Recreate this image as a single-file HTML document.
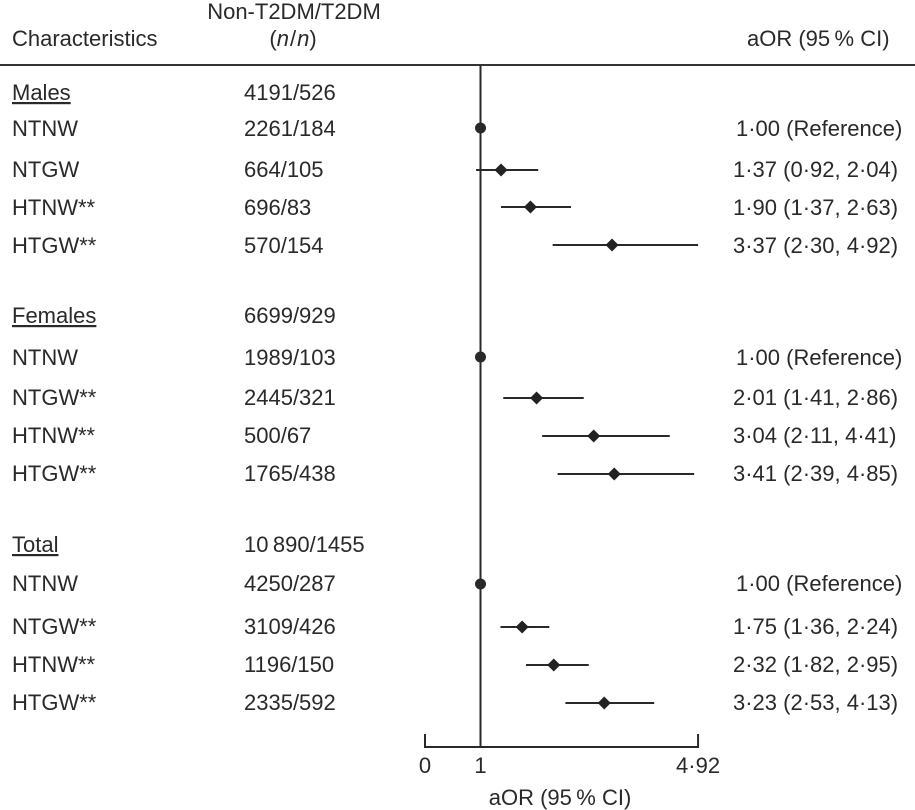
<!DOCTYPE html>
<html lang="en">
<head>
<meta charset="utf-8">
<title>Forest plot of aOR for T2DM</title>
<style>
html,body{margin:0;padding:0;background:#fff;}
svg{display:block;}
text{font-family:"Liberation Sans",Arial,sans-serif;font-size:22px;fill:#2b2829;}
.c{text-anchor:middle;}
</style>
</head>
<body>
<svg id="chart" xmlns="http://www.w3.org/2000/svg" width="915" height="810" viewBox="0 0 915 810">
  <rect x="0" y="0" width="915" height="810" fill="#fff"/>
  <g>
    <text x="12" y="46">Characteristics</text>
    <text class="c" x="294" y="19">Non-T2DM/T2DM</text>
    <text class="c" x="293" y="46">(<tspan font-style="italic">n</tspan><tspan dx="1">/</tspan><tspan dx="1" font-style="italic">n</tspan>)</text>
    <text x="747" y="46">aOR (95&#8201;% CI)</text>
  </g>
  <rect x="0" y="64" width="915" height="2" fill="#333"/>

  <g id="axis"></g>

  <g>
    <g><text x="12" y="100" text-decoration="underline">Males</text><text x="244" y="100">4191/526</text></g>
    <g class="row" transform="translate(0,128)"><text x="12" y="8">NTNW</text><text x="244" y="8">2261/184</text><text x="736" y="8">1·00 (Reference)</text></g>
    <g class="row" transform="translate(0,170)"><text x="12" y="7">NTGW</text><text x="244" y="7">664/105</text><text x="733" y="7">1·37 (0·92, 2·04)</text></g>
    <g class="row" transform="translate(0,207)"><text x="12" y="8">HTNW**</text><text x="244" y="8">696/83</text><text x="733" y="8">1·90 (1·37, 2·63)</text></g>
    <g class="row" transform="translate(0,245)"><text x="12" y="8">HTGW**</text><text x="244" y="8">570/154</text><text x="733" y="8">3·37 (2·30, 4·92)</text></g>
  </g>

  <g>
    <g><text x="12" y="323" text-decoration="underline">Females</text><text x="244" y="323">6699/929</text></g>
    <g class="row" transform="translate(0,357)"><text x="12" y="8">NTNW</text><text x="244" y="8">1989/103</text><text x="736" y="8">1·00 (Reference)</text></g>
    <g class="row" transform="translate(0,398)"><text x="12" y="7">NTGW**</text><text x="244" y="7">2445/321</text><text x="733" y="7">2·01 (1·41, 2·86)</text></g>
    <g class="row" transform="translate(0,436)"><text x="12" y="7">HTNW**</text><text x="244" y="7">500/67</text><text x="733" y="7">3·04 (2·11, 4·41)</text></g>
    <g class="row" transform="translate(0,474)"><text x="12" y="7">HTGW**</text><text x="244" y="7">1765/438</text><text x="733" y="7">3·41 (2·39, 4·85)</text></g>
  </g>

  <g>
    <g><text x="12" y="552" text-decoration="underline">Total</text><text x="244" y="552">10&#8201;890/1455</text></g>
    <g class="row" transform="translate(0,584)"><text x="12" y="7">NTNW</text><text x="244" y="7">4250/287</text><text x="736" y="7">1·00 (Reference)</text></g>
    <g class="row" transform="translate(0,627)"><text x="12" y="7">NTGW**</text><text x="244" y="7">3109/426</text><text x="733" y="7">1·75 (1·36, 2·24)</text></g>
    <g class="row" transform="translate(0,665)"><text x="12" y="7">HTNW**</text><text x="244" y="7">1196/150</text><text x="733" y="7">2·32 (1·82, 2·95)</text></g>
    <g class="row" transform="translate(0,703)"><text x="12" y="7">HTGW**</text><text x="244" y="7">2335/592</text><text x="733" y="7">3·23 (2·53, 4·13)</text></g>
  </g>

  <text class="c" x="560" y="805">aOR (95&#8201;% CI)</text>
</svg>
<script>
// Rows top to bottom: males, females, total (each NTNW, NTGW, HTNW, HTGW)
const aorValues = [1.00, 1.37, 1.90, 3.37, 1.00, 2.01, 3.04, 3.41, 1.00, 1.75, 2.32, 3.23];
const ciLower   = [null, 0.92, 1.37, 2.30, null, 1.41, 2.11, 2.39, null, 1.36, 1.82, 2.53];
const ciUpper   = [null, 2.04, 2.63, 4.92, null, 2.86, 4.41, 4.85, null, 2.24, 2.95, 4.13];
const tickValues = [0, 1, 4.92];
const tickLabels = ['0', '1', '4·92'];
const referenceValue = 1;

const NS = 'http://www.w3.org/2000/svg';
const INK = '#2b2829';
const X0 = 425, X_PER_UNIT = 55.5;
const AXIS_Y = 747, TICK_TOP = 734, REF_TOP = 65;
const DIAMOND = 6.5;

function xScale(v) { return X0 + v * X_PER_UNIT; }

function make(tag, attrs, parent) {
  const el = document.createElementNS(NS, tag);
  for (const k in attrs) el.setAttribute(k, attrs[k]);
  parent.appendChild(el);
  return el;
}

const axis = document.getElementById('axis');

const refLine = make('line', {x1: xScale(referenceValue), x2: xScale(referenceValue), y1: REF_TOP, y2: AXIS_Y, stroke: INK, 'stroke-width': 2}, axis);



const axisLine = make('line', {x1: xScale(tickValues[0]) - 1, x2: xScale(tickValues[tickValues.length - 1]) + 1, y1: AXIS_Y, y2: AXIS_Y, stroke: INK, 'stroke-width': 2}, axis);



tickValues.forEach(function (v, i) {
  if (i === 0 || i === tickValues.length - 1) {
    const tick = make('line', {x1: xScale(v), x2: xScale(v), y1: TICK_TOP, y2: AXIS_Y, stroke: INK, 'stroke-width': 2}, axis);
    
    
  }
  const label = make('text', {x: xScale(v), y: 773, 'text-anchor': 'middle'}, axis);
  label.textContent = tickLabels[i];
  
  
});

const rows = document.querySelectorAll('.row');
aorValues.forEach(function (v, i) {
  const row = rows[i];
  if (ciLower[i] !== null) {
    const ci = make('line', {x1: xScale(ciLower[i]), x2: xScale(ciUpper[i]), y1: 0, y2: 0, stroke: INK, 'stroke-width': 2}, row);
    
    
    const cx = xScale(v);
    const d = make('path', {d: 'M' + (cx - DIAMOND) + ' 0L' + cx + ' ' + (-DIAMOND) + 'L' + (cx + DIAMOND) + ' 0L' + cx + ' ' + DIAMOND + 'Z', fill: '#222'}, row);
    
    
  } else {
    const c = make('circle', {cx: xScale(v), cy: 0, r: 5.5, fill: '#2b2829'}, row);
    
    
  }
});
</script>
</body>
</html>
